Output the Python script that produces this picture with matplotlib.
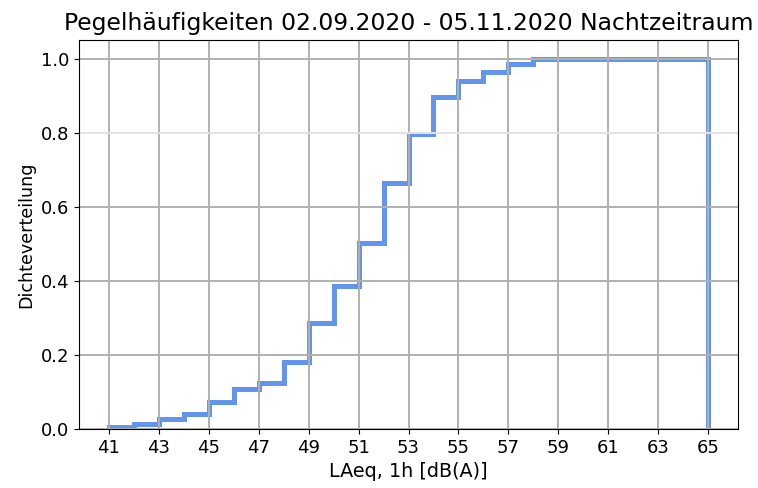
import numpy as np
import matplotlib
matplotlib.use('Agg')
import matplotlib.pyplot as plt

# bin edges (dB(A)) and cumulative share per 1 dB bin
bin_edges = np.arange(41, 66, 1)
cum_share = [0.005, 0.013, 0.027, 0.040, 0.074, 0.107, 0.123, 0.181,
             0.287, 0.386, 0.502, 0.665, 0.797, 0.896, 0.939, 0.963,
             0.985, 1.0, 1.0, 1.0, 1.0, 1.0, 1.0, 1.0]
x_ticks = np.arange(41, 66, 2)
y_ticks = [0.0, 0.2, 0.4, 0.6, 0.8, 1.0]

fig = plt.figure(figsize=(7.58, 4.88), dpi=100)
ax = fig.add_axes([79/758, 1-429/488, (738-79)/758, (429-40)/488])

ax.stairs(cum_share, bin_edges, baseline=0, color='cornflowerblue', linewidth=3.6)
ax.set_ylim(0, 1.05)
ax.set_xticks(x_ticks)
ax.set_yticks(y_ticks)
ax.grid(True, color='#b0b0b0', linewidth=1.4)
# the 0.8 line is drawn fainter in the original
ax.get_ygridlines()[4].set_color('#e4e4e4')
ax.tick_params(labelsize=13)

ax.set_title('Pegelhäufigkeiten 02.09.2020 - 05.11.2020 Nachtzeitraum', fontsize=16.9, pad=7)
ax.set_xlabel('LAeq, 1h [dB(A)]', fontsize=13.8)
ax.set_ylabel('Dichteverteilung', fontsize=12.6)

fig.savefig('out.png', dpi=100)
